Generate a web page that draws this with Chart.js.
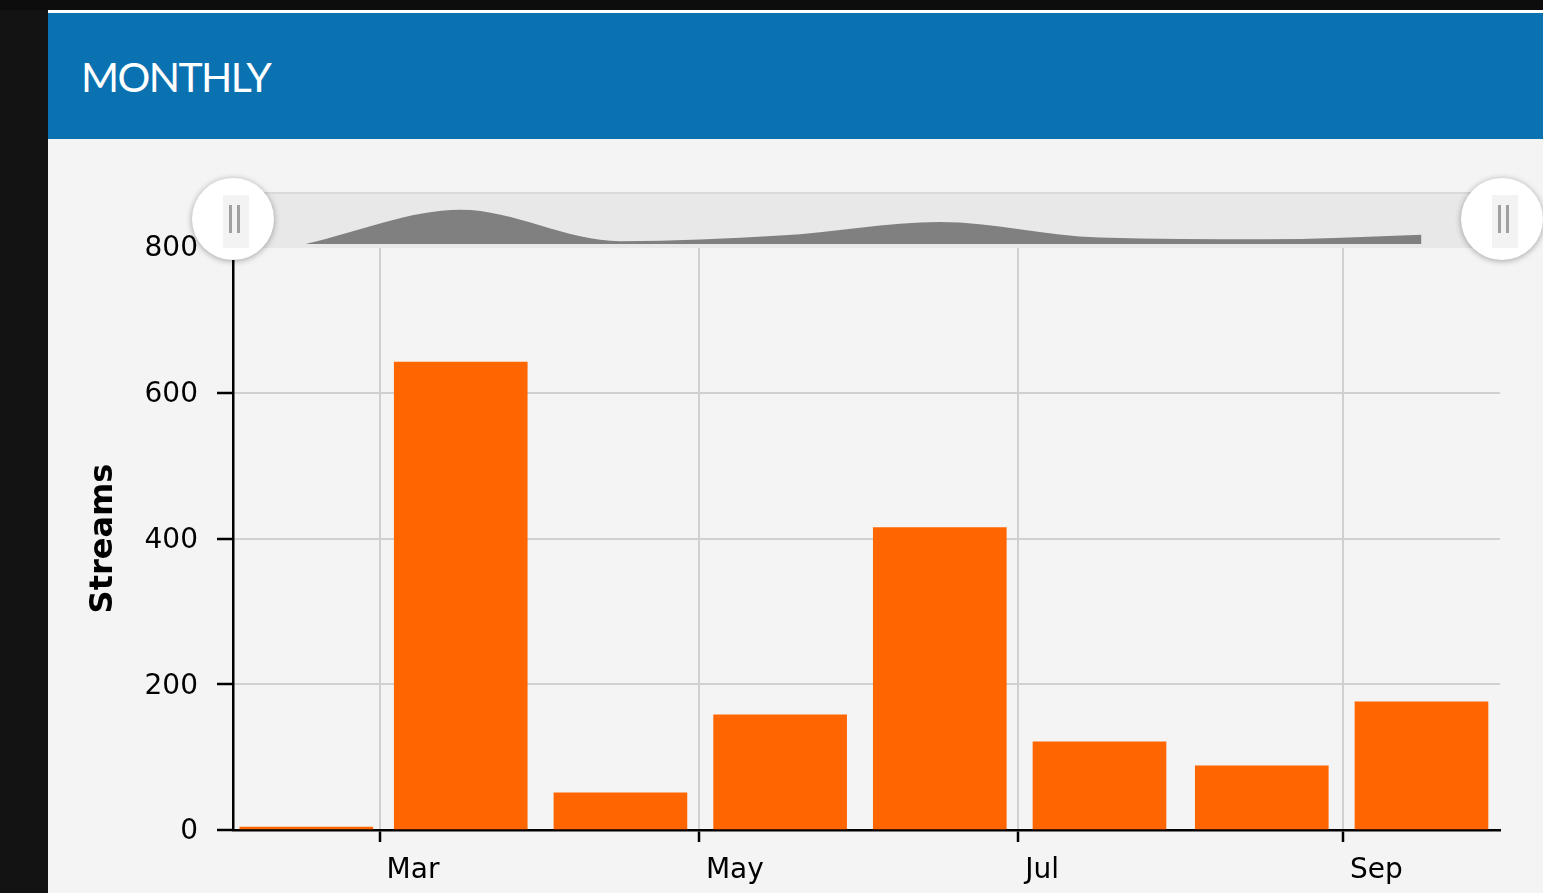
<!DOCTYPE html>
<html>
<head>
<meta charset="utf-8">
<title>Monthly streams</title>
<script src="https://cdn.jsdelivr.net/npm/chart.js@4.4.1/dist/chart.umd.min.js"></script>
<style>
    html, body { margin: 0; padding: 0; }
    body {
        width: 1543px;
        height: 893px;
        overflow: hidden;
        background: #0d0d0d;
        position: relative;
        font-family: Lato, "Open Sans", sans-serif;
    }
    #sideStrip { position: absolute; left: 0; top: 10px; width: 48px; height: 883px; background: #131313; }
    #card { position: absolute; left: 48px; top: 10px; width: 1495px; height: 883px; background: #f4f4f4; border-top: 3px solid #fff; box-sizing: border-box; }
    #header { position: absolute; left: 0; top: 0; width: 100%; height: 126px; background: #0b72b2; }
    #header h2 {
        position: absolute; left: 33px; top: 43px; margin: 0;
        color: #fff; font-weight: 400; font-size: 41px; line-height: 41px; letter-spacing: -1.6px;
    }
    #chartWrap { position: absolute; left: 48px; top: 139px; width: 1495px; height: 754px; }
    #navBox {
        position: absolute; left: 233px; top: 192px; width: 1269px; height: 56px;
        background: #e8e8e8; border-top: 2px solid #dadada; box-sizing: border-box;
    }
    #navWrap { position: absolute; left: 233px; top: 194px; width: 1267px; height: 50px; }
    .handle {
        position: absolute; top: 178px; width: 82px; height: 82px; border-radius: 50%;
        background: #fff; box-shadow: 0 1px 6px rgba(0, 0, 0, 0.35);
    }
    .handle .grip { position: absolute; left: 31px; top: 17px; width: 26px; height: 53px; background: #f3f3f3; }
    .handle .grip::before, .handle .grip::after {
        content: ''; position: absolute; top: 10px; width: 2.5px; height: 28px; background: #a0a0a0;
    }
    .handle .grip::before { left: 6px; }
    .handle .grip::after { left: 14px; }
    #handleLeft { left: 192px; }
    #handleRight { left: 1461px; }
</style>
</head>
<body>
<div id="sideStrip"></div>
<div id="card"><div id="header"><h2>MONTHLY</h2></div></div>
<div id="chartWrap"><canvas id="monthlyChart"></canvas></div>
<div id="navBox"></div>
<div id="navWrap"><canvas id="navChart"></canvas></div>
<div class="handle" id="handleLeft"><div class="grip"></div></div>
<div class="handle" id="handleRight"><div class="grip"></div></div>

<script>
// Du lieu doc tu hinh
const months = ['Feb', 'Mar', 'Apr', 'May', 'Jun', 'Jul', 'Aug', 'Sep'];
const streams = [4, 642, 51, 158, 415, 121, 88, 176];
const tickMonths = ['Mar', 'May', 'Jul', 'Sep'];
const yTicks = [0, 200, 400, 600, 800];
const yearShown = 2019;

// truc x la so ngay tinh tu 1 thang 2 (giong mot truc thoi gian)
const dayOf = (m, d) => (Date.UTC(yearShown, m, d) - Date.UTC(yearShown, 1, 1)) / 864e5;
const monthStart = months.map((m, i) => dayOf(i + 1, 1));
const monthEnd = months.map((m, i) => dayOf(i + 2, 1));
const monthMid = months.map((m, i) => (monthStart[i] + monthEnd[i]) / 2);
const xMin = monthStart[0];
const xMax = monthEnd[monthEnd.length - 1];
const tickDays = tickMonths.map(m => monthStart[months.indexOf(m)]);

const points = months.map((m, i) => ({ x: monthMid[i], y: streams[i] }));
const tickFont = { family: '"DejaVu Sans", Verdana, sans-serif', size: 28 };

let monthlyChart, navChart;

function initCharts() {
    if (monthlyChart) monthlyChart.destroy();
    if (navChart) navChart.destroy();

    monthlyChart = new Chart(document.getElementById('monthlyChart').getContext('2d'), {
        type: 'bar',
        data: {
            datasets: [{
                label: 'Streams',
                data: points,
                backgroundColor: '#ff6600',
                borderWidth: 0,
                barThickness: 133
            }]
        },
        options: {
            responsive: true,
            maintainAspectRatio: false,
            animation: false,
            layout: { padding: { top: 108, right: 43, left: 0, bottom: 0 } },
            plugins: { legend: { display: false }, tooltip: { enabled: false } },
            scales: {
                x: {
                    type: 'linear',
                    min: xMin,
                    max: xMax,
                    offset: false,
                    afterBuildTicks: (scale) => { scale.ticks = tickDays.map(v => ({ value: v })); },
                    afterFit: (scale) => { scale.height = 63; },
                    border: { color: '#000', width: 2.5 },
                    grid: { offset: false, color: '#d0d0d0', lineWidth: 2, tickColor: '#000', tickLength: 12, tickWidth: 2.5 },
                    ticks: {
                        font: tickFont,
                        color: '#000',
                        align: 'start',
                        labelOffset: 7,
                        padding: 12,
                        maxRotation: 0,
                        autoSkip: false,
                        callback: (v) => tickMonths[tickDays.indexOf(v)]
                    }
                },
                y: {
                    min: yTicks[0],
                    max: yTicks[yTicks.length - 1],
                    afterBuildTicks: (scale) => { scale.ticks = yTicks.map(v => ({ value: v })); },
                    afterFit: (scale) => { scale.width = 185; },
                    border: { color: '#000', width: 2.5 },
                    grid: { color: '#d0d0d0', lineWidth: 2, tickColor: '#000', tickLength: 16, tickWidth: 2.5 },
                    ticks: { font: tickFont, color: '#000', padding: 19, labelOffset: 2 },
                    title: {
                        display: true,
                        text: 'Streams',
                        color: '#000',
                        font: { family: '"DejaVu Sans", Verdana, sans-serif', size: 32, weight: 'bold' },
                        padding: { top: 36, bottom: 0 }
                    }
                }
            }
        }
    });

    // thanh dieu huong (navigator) phia tren
    navChart = new Chart(document.getElementById('navChart').getContext('2d'), {
        type: 'line',
        data: {
            datasets: [{
                data: points,
                fill: 'origin',
                backgroundColor: '#808080',
                borderColor: '#808080',
                borderWidth: 0,
                pointRadius: 0,
                cubicInterpolationMode: 'monotone'
            }]
        },
        options: {
            responsive: true,
            maintainAspectRatio: false,
            animation: false,
            layout: { padding: 0 },
            plugins: { legend: { display: false }, tooltip: { enabled: false } },
            scales: {
                x: { type: 'linear', min: xMin, max: xMax, display: false },
                y: { min: 0, max: 940, display: false }
            }
        }
    });
}

initCharts();
</script>
</body>
</html>
